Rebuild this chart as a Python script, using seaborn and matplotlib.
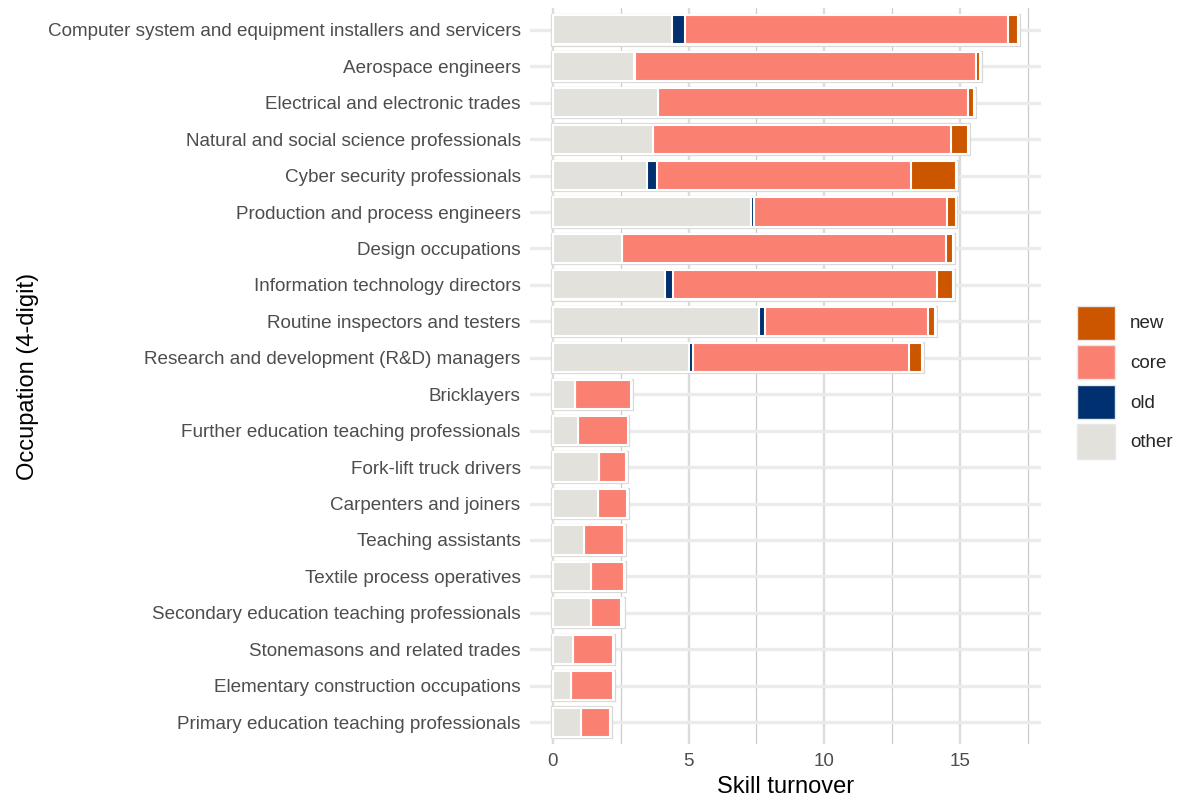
import pandas as pd
import matplotlib.pyplot as plt
import seaborn as sns
from matplotlib.patches import Patch
from matplotlib.ticker import MultipleLocator

# occupations, top to bottom
occupations = [
    "Computer system and equipment installers and servicers",
    "Aerospace engineers",
    "Electrical and electronic trades",
    "Natural and social science professionals",
    "Cyber security professionals",
    "Production and process engineers",
    "Design occupations",
    "Information technology directors",
    "Routine inspectors and testers",
    "Research and development (R&D) managers",
    "Bricklayers",
    "Further education teaching professionals",
    "Fork-lift truck drivers",
    "Carpenters and joiners",
    "Teaching assistants",
    "Textile process operatives",
    "Secondary education teaching professionals",
    "Stonemasons and related trades",
    "Elementary construction occupations",
    "Primary education teaching professionals",
]

# skill turnover components
other = [4.40, 2.99, 3.88, 3.69, 3.45, 7.30, 2.53, 4.12, 7.58, 5.03,
         0.82, 0.92, 1.69, 1.66, 1.16, 1.42, 1.42, 0.75, 0.68, 1.04]
old = [0.47, 0.02, 0.0, 0.0, 0.40, 0.12, 0.03, 0.31, 0.25, 0.14,
       0.0, 0.0, 0.0, 0.0, 0.0, 0.0, 0.0, 0.0, 0.0, 0.0]
core = [11.89, 12.58, 11.43, 10.99, 9.33, 7.11, 11.94, 9.71, 5.99, 7.94,
        2.06, 1.83, 1.00, 1.06, 1.47, 1.20, 1.08, 1.48, 1.52, 1.08]
new = [0.38, 0.14, 0.20, 0.62, 1.68, 0.31, 0.26, 0.60, 0.25, 0.51,
       0.0, 0.0, 0.0, 0.0, 0.0, 0.0, 0.08, 0.0, 0.0, 0.0]

colors = {"new": "#cc5500", "core": "#fa8072", "old": "#00306f", "other": "#e2e1dc"}

df = pd.DataFrame({"Occupation": occupations, "other": other, "old": old,
                   "core": core, "new": new})
# cumulative ends, to stack the bars
df["c_other"] = df["other"]
df["c_old"] = df["c_other"] + df["old"]
df["c_core"] = df["c_old"] + df["core"]
df["c_new"] = df["c_core"] + df["new"]

sns.set_theme(style="white")
plt.rcParams["font.family"] = ["Liberation Sans", "DejaVu Sans"]

fig = plt.figure(figsize=(11.87, 7.98), dpi=100)
ax = fig.add_axes([0.4462, 0.0677, 0.4308, 0.9223])

# white frame with thin grey outline behind each bar
ypos = range(len(occupations))
ax.barh(list(ypos), df["c_new"] + 0.14, left=-0.07, height=0.86,
        color="white", edgecolor="#d8d8d8", linewidth=0.9, zorder=2)

for part in ["new", "core", "old", "other"]:
    sns.barplot(data=df, y="Occupation", x="c_" + part, color=colors[part],
                orient="h", width=0.8, edgecolor="white", linewidth=1.5,
                saturation=1, ax=ax)
for p in ax.patches:
    p.set_zorder(3)
for p in ax.patches[:len(occupations)]:
    p.set_zorder(2)

ax.set_xlim(-0.86, 17.99)
ax.set_ylim(len(occupations) - 0.4, -0.6)
ax.xaxis.set_major_locator(MultipleLocator(5))
ax.xaxis.set_minor_locator(MultipleLocator(2.5))
ax.grid(axis="x", which="major", color="#dcdcdc", linewidth=1.7, zorder=0)
ax.grid(axis="x", which="minor", color="#cccccc", linewidth=0.9, zorder=0)
ax.grid(axis="y", which="major", color="#ebebeb", linewidth=2.4, zorder=0)
ax.set_axisbelow(True)
for s in ax.spines.values():
    s.set_visible(False)
ax.tick_params(axis="y", which="both", length=0, labelsize=13.6,
               labelcolor="#4d4d4d", pad=6.5)
ax.tick_params(axis="x", which="both", length=0, labelsize=13.5,
               labelcolor="#4d4d4d", pad=6.5)

ax.set_xlabel("Skill turnover", fontsize=17, color="black", labelpad=4)
ax.set_ylabel("Occupation (4-digit)", fontsize=17, color="black", labelpad=6)

handles = [Patch(facecolor=colors[k], edgecolor="#e8e8e8", linewidth=1)
           for k in ["new", "core", "old", "other"]]
fig.legend(handles, ["new", "core", "old", "other"], loc="center left",
           bbox_to_anchor=(1068 / 1187, 1 - 382 / 798), frameon=False,
           fontsize=13.5, handlelength=2.0, handleheight=2.45,
           labelspacing=0.27, handletextpad=0.8, borderpad=0)

plt.savefig("out.png", dpi=100)
print("Picture has been saved")
